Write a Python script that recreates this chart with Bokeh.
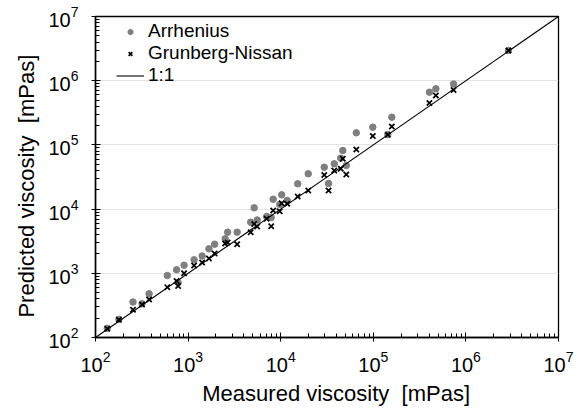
from bokeh.plotting import figure
from bokeh.models import FixedTicker, Legend, LegendItem
from bokeh.embed import file_html
from bokeh.resources import INLINE

# Measured viscosity [mPas]
measured = [134, 179, 254, 318, 379, 596, 751, 780, 905, 1161, 1417, 1679, 1934,
            2512, 2673, 3386, 4740, 5170, 5570, 7056, 7896, 8296, 9754, 10250,
            11760, 15270, 19830, 29540, 32870, 37880, 44530, 46820, 51070, 65510,
            98770, 143500, 158500, 403300, 474000, 736000, 2880000]
# Predicted viscosity, Arrhenius model [mPas]
arrhenius = [139, 192, 357, 335, 479, 924, 1134, 719, 1337, 1623, 1860, 2407, 2840,
             3446, 4367, 4367, 6252, 10470, 6765, 7667, 7400, 14260, 11800, 16700,
             13610, 24790, 35460, 44950, 25060, 50770, 62060, 81800, 47770, 154300,
             188700, 145200, 270100, 662200, 747800, 888500, 2954000]
# Predicted viscosity, Grunberg-Nissan model [mPas]
grunberg = [137, 189, 270, 327, 391, 608, 759, 634, 1004, 1323, 1473, 1700, 2034,
            2912, 3018, 2840, 4367, 5861, 5358, 7062, 5415, 9511, 9275, 12360,
            12090, 15720, 19490, 33980, 19490, 39920, 42430, 60750, 34590, 84770,
            137600, 143700, 193400, 449600, 588300, 716300, 2954000]
# 1:1 reference line end points
one_to_one = [1e2, 1e7]

major_ticks = [1e2, 1e3, 1e4, 1e5, 1e6, 1e7]
minor_ticks = [m * d for d in [1e2, 1e3, 1e4, 1e5, 1e6] for m in range(2, 10)]

FONT = "Liberation Sans"
NB = "\u00a0"

p = figure(width=578, height=408, x_axis_type="log", y_axis_type="log",
           x_range=(1e2, 1e7), y_range=(1e2, 1e7),
           output_backend="svg", toolbar_location=None,
           min_border_left=95, min_border_right=20, min_border_top=16,
           min_border_bottom=71)
p.background_fill_color = "white"
p.border_fill_color = "white"
p.outline_line_color = "black"
p.outline_line_width = 1.3

r_arr = p.scatter(measured, arrhenius, marker="circle", size=6.5,
                  fill_color="#7f7f7f", line_color="#7f7f7f")
r_gn = p.scatter(measured, grunberg, marker="x", size=7.5,
                 line_color="black", line_width=1.7)
r_line = p.line(one_to_one, one_to_one, line_color="black", line_width=1.1)

for ax in (p.xaxis[0], p.yaxis[0]):
    ax.ticker = FixedTicker(ticks=major_ticks, minor_ticks=minor_ticks)
    ax.axis_line_color = "black"
    ax.axis_line_width = 1.5
    ax.major_tick_in = 5
    ax.major_tick_out = 4
    ax.minor_tick_in = 4
    ax.minor_tick_out = 0
    ax.major_tick_line_color = "black"
    ax.minor_tick_line_color = "black"
    ax.major_label_text_font = FONT
    ax.major_label_text_font_size = "20px"
    ax.major_label_text_color = "black"
    ax.axis_label_text_font = FONT
    ax.axis_label_text_font_size = "22px"
    ax.axis_label_text_font_style = "normal"
    ax.axis_label_text_color = "black"

p.xaxis.axis_label = NB * 3 + "Measured viscosity" + NB + " [mPas]"
p.yaxis.axis_label = "Predicted viscosity" + NB + " [mPas]" + NB * 3
p.xaxis.major_label_standoff = 9
p.yaxis.major_label_standoff = 13
p.xaxis.axis_label_standoff = 6
p.yaxis.axis_label_standoff = 6

p.xgrid.grid_line_color = None
p.ygrid.grid_line_color = "#e3e3e3"
p.ygrid.grid_line_width = 1.2
p.ygrid.ticker = FixedTicker(ticks=major_ticks)

legend = Legend(items=[LegendItem(label="Arrhenius", renderers=[r_arr]),
                       LegendItem(label="Grunberg-Nissan", renderers=[r_gn]),
                       LegendItem(label="1:1", renderers=[r_line])],
                location=(21, 251))
legend.border_line_color = None
legend.background_fill_alpha = 0
legend.margin = 0
legend.padding = 4
legend.spacing = -1
legend.glyph_width = 28
legend.glyph_height = 13
legend.label_height = 20
legend.label_standoff = 4
legend.label_text_font = FONT
legend.label_text_font_size = "19px"
legend.label_text_color = "black"
p.add_layout(legend)

open("out.html", "w").write(file_html(p, INLINE))
